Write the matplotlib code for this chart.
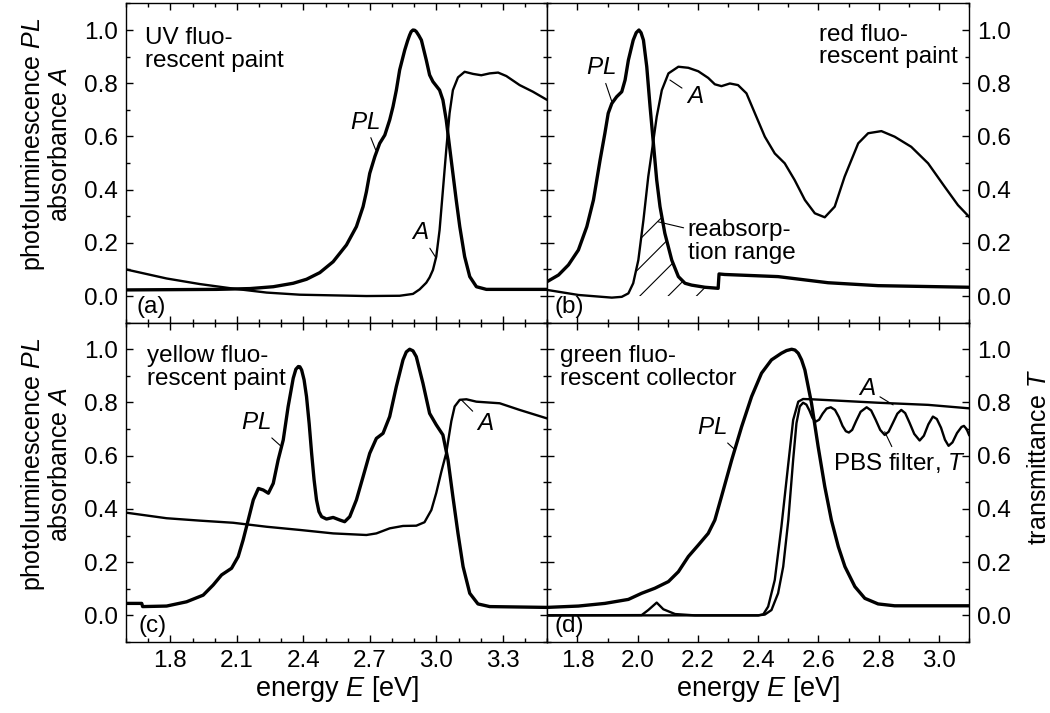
import numpy as np
import matplotlib.pyplot as plt
from matplotlib.ticker import MultipleLocator, FormatStrFormatter

plt.rcParams['font.family'] = ['Liberation Sans', 'DejaVu Sans']
plt.rcParams['mathtext.fontset'] = 'custom'
plt.rcParams['mathtext.rm'] = 'Liberation Sans'
plt.rcParams['mathtext.it'] = 'Liberation Sans:italic'
plt.rcParams['axes.linewidth'] = 1.0

# (a) UV fluorescent paint
a_pl_E = [1.600, 2.008, 2.159, 2.264, 2.354, 2.414, 2.474, 2.534, 2.594, 2.639,
          2.669, 2.684, 2.699, 2.722, 2.744, 2.767, 2.789, 2.804, 2.819, 2.834,
          2.857, 2.870, 2.879, 2.886, 2.894, 2.902, 2.909, 2.920, 2.932, 2.954,
          2.969, 2.984, 3.014, 3.029, 3.044, 3.059, 3.074, 3.089, 3.105, 3.127,
          3.150, 3.180, 3.225, 3.495]
a_pl = [0.023, 0.025, 0.028, 0.035, 0.048, 0.063, 0.088, 0.129, 0.192, 0.261,
        0.336, 0.392, 0.461, 0.524, 0.574, 0.605, 0.662, 0.712, 0.774, 0.850,
        0.925, 0.960, 0.981, 0.994, 1.000, 0.999, 0.994, 0.980, 0.962, 0.887,
        0.831, 0.806, 0.774, 0.737, 0.662, 0.561, 0.461, 0.361, 0.261, 0.148,
        0.073, 0.035, 0.025, 0.025]
a_abs_E = [1.600, 1.783, 1.933, 2.083, 2.234, 2.384, 2.684, 2.834, 2.894, 2.924,
           2.954, 2.969, 2.984, 2.999, 3.014, 3.029, 3.044, 3.059, 3.074, 3.097,
           3.127, 3.165, 3.202, 3.240, 3.278, 3.315, 3.375, 3.435, 3.495]
a_abs = [0.100, 0.066, 0.045, 0.028, 0.013, 0.005, 0.000, 0.001, 0.008, 0.025,
         0.050, 0.070, 0.098, 0.148, 0.248, 0.398, 0.549, 0.687, 0.774, 0.822,
         0.843, 0.835, 0.830, 0.837, 0.840, 0.827, 0.793, 0.768, 0.739]

# (b) red fluorescent paint
b_pl_E = [1.699, 1.737, 1.770, 1.803, 1.831, 1.853, 1.875, 1.891, 1.902, 1.914,
          1.930, 1.947, 1.958, 1.969, 1.985, 1.995, 2.004, 2.011, 2.019, 2.030,
          2.041, 2.052, 2.063, 2.074, 2.090, 2.113, 2.135, 2.157, 2.179, 2.223,
          2.267, 2.270, 2.289, 2.466, 2.632, 2.798, 3.100]
b_pl = [0.054, 0.079, 0.117, 0.173, 0.261, 0.361, 0.511, 0.612, 0.687, 0.724,
        0.749, 0.768, 0.812, 0.887, 0.962, 0.990, 1.000, 0.990, 0.962, 0.862,
        0.712, 0.574, 0.436, 0.336, 0.236, 0.135, 0.073, 0.048, 0.041, 0.033,
        0.029, 0.083, 0.081, 0.073, 0.050, 0.039, 0.033]
b_abs_E = [1.699, 1.803, 1.914, 1.947, 1.969, 1.985, 2.002, 2.019, 2.035, 2.046,
           2.063, 2.080, 2.102, 2.135, 2.168, 2.201, 2.234, 2.256, 2.278, 2.306,
           2.333, 2.361, 2.389, 2.422, 2.455, 2.488, 2.521, 2.555, 2.588, 2.621,
           2.654, 2.687, 2.732, 2.765, 2.809, 2.853, 2.908, 2.964, 3.019, 3.063,
           3.100]
b_abs = [0.023, 0.004, -0.006, -0.003, 0.010, 0.048, 0.135, 0.286, 0.449, 0.536,
         0.674, 0.774, 0.837, 0.862, 0.858, 0.845, 0.820, 0.796, 0.789, 0.799,
         0.793, 0.762, 0.687, 0.599, 0.536, 0.499, 0.436, 0.361, 0.311, 0.296,
         0.336, 0.449, 0.574, 0.612, 0.620, 0.599, 0.561, 0.499, 0.411, 0.342,
         0.298]

# (c) yellow fluorescent paint
c_pl_E = [1.600, 1.671, 1.675, 1.783, 1.873, 1.948, 1.993, 2.031, 2.076, 2.106,
          2.128, 2.151, 2.174, 2.197, 2.219, 2.242, 2.264, 2.286, 2.309, 2.331,
          2.354, 2.366, 2.377, 2.384, 2.392, 2.403, 2.414, 2.426, 2.437, 2.448,
          2.459, 2.470, 2.482, 2.504, 2.534, 2.565, 2.586, 2.609, 2.639, 2.669,
          2.699, 2.729, 2.759, 2.789, 2.819, 2.849, 2.864, 2.879, 2.894, 2.909,
          2.939, 2.969, 2.999, 3.029, 3.052, 3.074, 3.097, 3.120, 3.150, 3.187,
          3.240, 3.495]
c_pl = [0.045, 0.045, 0.033, 0.035, 0.051, 0.076, 0.114, 0.152, 0.177, 0.221,
        0.283, 0.358, 0.434, 0.477, 0.471, 0.459, 0.496, 0.584, 0.659, 0.784,
        0.891, 0.925, 0.935, 0.934, 0.922, 0.885, 0.822, 0.720, 0.609, 0.510,
        0.434, 0.390, 0.371, 0.362, 0.368, 0.358, 0.352, 0.371, 0.434, 0.521,
        0.609, 0.665, 0.684, 0.747, 0.860, 0.960, 0.990, 1.000, 0.994, 0.972,
        0.872, 0.759, 0.716, 0.678, 0.584, 0.446, 0.308, 0.183, 0.083, 0.043,
        0.033, 0.030]
c_abs_E = [1.600, 1.783, 1.933, 2.083, 2.234, 2.384, 2.534, 2.684, 2.729, 2.789,
           2.849, 2.909, 2.946, 2.977, 2.999, 3.022, 3.044, 3.067, 3.082, 3.105,
           3.135, 3.180, 3.285, 3.375, 3.495]
c_abs = [0.386, 0.365, 0.356, 0.348, 0.333, 0.321, 0.308, 0.302, 0.308, 0.327,
         0.336, 0.337, 0.350, 0.396, 0.460, 0.540, 0.610, 0.730, 0.785, 0.810,
         0.812, 0.803, 0.797, 0.772, 0.741]

# (d) green fluorescent collector + PBS filter
d_pl_E = [1.699, 1.803, 1.891, 1.969, 2.013, 2.057, 2.102, 2.135, 2.168, 2.201,
          2.234, 2.256, 2.278, 2.312, 2.345, 2.378, 2.411, 2.444, 2.477, 2.494,
          2.511, 2.522, 2.533, 2.544, 2.555, 2.577, 2.599, 2.621, 2.643, 2.666,
          2.688, 2.721, 2.754, 2.798, 2.853, 3.100]
d_pl = [0.030, 0.035, 0.045, 0.060, 0.083, 0.102, 0.127, 0.164, 0.221, 0.264,
        0.308, 0.358, 0.446, 0.584, 0.709, 0.822, 0.910, 0.960, 0.985, 0.995,
        1.000, 0.997, 0.985, 0.960, 0.922, 0.797, 0.634, 0.484, 0.358, 0.258,
        0.183, 0.108, 0.064, 0.043, 0.036, 0.036]
d_abs_E = [1.699, 2.013, 2.035, 2.063, 2.085, 2.124, 2.190, 2.400, 2.417, 2.433,
           2.455, 2.477, 2.500, 2.516, 2.533, 2.549, 2.577, 2.798, 2.964, 3.100]
d_abs = [0.000, 0.001, 0.020, 0.048, 0.023, 0.005, 0.000, 0.000, 0.004, 0.033,
         0.133, 0.333, 0.571, 0.734, 0.803, 0.813, 0.812, 0.799, 0.791, 0.778]
d_T_E = [1.699, 2.400, 2.422, 2.444, 2.466, 2.483, 2.500, 2.516, 2.527, 2.538,
         2.549, 2.560, 2.570, 2.580, 2.591, 2.602, 2.614, 2.627, 2.641, 2.655,
         2.668, 2.680, 2.691, 2.701, 2.712, 2.725, 2.740, 2.760, 2.775, 2.790,
         2.805, 2.820, 2.833, 2.848, 2.862, 2.875, 2.888, 2.902, 2.918, 2.936,
         2.950, 2.965, 2.980, 2.993, 3.007, 3.020, 3.032, 3.045, 3.060, 3.075,
         3.083, 3.092, 3.100]
d_T = [0.000, 0.000, 0.003, 0.020, 0.083, 0.183, 0.358, 0.584, 0.722, 0.785,
       0.799, 0.792, 0.770, 0.742, 0.728, 0.735, 0.758, 0.777, 0.782, 0.772,
       0.745, 0.712, 0.692, 0.687, 0.697, 0.730, 0.765, 0.782, 0.770, 0.735,
       0.697, 0.678, 0.690, 0.725, 0.758, 0.772, 0.760, 0.725, 0.682, 0.657,
       0.675, 0.718, 0.747, 0.738, 0.705, 0.660, 0.637, 0.650, 0.685, 0.708,
       0.712, 0.700, 0.678]

FS = 17.5
LW_PL = 2.4
LW_A = 1.7


def style(ax, xmin, xmax, xmajor, left_col, bottom_row):
	ax.set_xlim(xmin, xmax)
	ax.set_ylim(-0.1, 1.1)
	ax.xaxis.set_major_locator(MultipleLocator(xmajor))
	ax.xaxis.set_minor_locator(MultipleLocator(0.1))
	ax.yaxis.set_major_locator(MultipleLocator(0.2))
	ax.yaxis.set_minor_locator(MultipleLocator(0.1))
	ax.xaxis.set_major_formatter(FormatStrFormatter('%.1f'))
	ax.yaxis.set_major_formatter(FormatStrFormatter('%.1f'))
	ax.tick_params(which='both', direction='in', top=True, bottom=True, left=True, right=True,
				   labelleft=left_col, labelright=not left_col, labelbottom=bottom_row,
				   labelsize=FS, width=1.0)
	ax.tick_params(which='major', length=5, pad=6)
	ax.tick_params(which='minor', length=3)
	if bottom_row:
		ax.set_xlabel('energy $E$ [eV]', fontsize=19.5, labelpad=1)
	if left_col:
		ax.set_ylabel('photoluminescence $PL$\nabsorbance $A$', fontsize=18, linespacing=1.05)
		ax.yaxis.set_label_coords(-0.128, 0.557)


def label(ax, txt, xy, xytext):
	ax.annotate(txt, xy=xy, xytext=xytext, fontsize=FS, ha='center', va='center',
				arrowprops=dict(arrowstyle='-', lw=0.8, color='k', shrinkA=1, shrinkB=0))


fig = plt.figure(figsize=(10.5, 7.13), dpi=100)
axA = fig.add_axes([0.1200, 0.5475, 0.4013, 0.4477])
axB = fig.add_axes([0.5213, 0.5475, 0.4016, 0.4477])
axC = fig.add_axes([0.1200, 0.0996, 0.4013, 0.4479])
axD = fig.add_axes([0.5213, 0.0996, 0.4016, 0.4479])

# (a)
axA.plot(a_pl_E, a_pl, color='k', lw=LW_PL)
axA.plot(a_abs_E, a_abs, color='k', lw=LW_A)
label(axA, '$PL$', (2.726, 0.549), (2.677, 0.652))
label(axA, '$A$', (2.999, 0.142), (2.927, 0.236))
axA.text(0.045, 0.925, 'UV fluo-\nrescent paint', transform=axA.transAxes,
		 fontsize=FS, va='top', ha='left', linespacing=1.05)
axA.text(0.025, 0.015, '(a)', transform=axA.transAxes, fontsize=FS, va='bottom')
style(axA, 1.6, 3.5, 0.3, True, False)

# (b) with hatched reabsorption range under both curves
axB.plot(b_pl_E, b_pl, color='k', lw=LW_PL)
axB.plot(b_abs_E, b_abs, color='k', lw=LW_A)
Eg = np.linspace(1.95, 2.25, 400)
overlap = np.minimum(np.interp(Eg, b_pl_E, b_pl), np.interp(Eg, b_abs_E, b_abs))
overlap = np.clip(overlap, 0, None)
region = axB.fill_between(Eg, 0, overlap, facecolor='none', edgecolor='none')
clip = region.get_paths()[0]
for x0 in np.arange(1.819, 2.25, 0.094):
	ln, = axB.plot([x0, x0 + 0.5], [0, 0.5 * 1.133], color='k', lw=0.8)
	ln.set_clip_path(clip, axB.transData)
label(axB, '$PL$', (1.914, 0.731), (1.877, 0.856))
label(axB, '$A$', (2.107, 0.812), (2.190, 0.749))
axB.annotate('reabsorp-\ntion range', xy=(2.068, 0.279), xytext=(2.166, 0.205),
			 fontsize=FS, ha='left', va='center', linespacing=1.05,
			 arrowprops=dict(arrowstyle='-', lw=0.8, color='k', shrinkA=1, shrinkB=0))
axB.text(0.643, 0.937, 'red fluo-\nrescent paint', transform=axB.transAxes,
		 fontsize=FS, va='top', ha='left', linespacing=1.05)
axB.text(0.018, 0.015, '(b)', transform=axB.transAxes, fontsize=FS, va='bottom')
style(axB, 1.7, 3.1, 0.2, False, False)

# (c)
axC.plot(c_pl_E, c_pl, color='k', lw=LW_PL)
axC.plot(c_abs_E, c_abs, color='k', lw=LW_A)
label(axC, '$PL$', (2.301, 0.634), (2.184, 0.722))
label(axC, '$A$', (3.112, 0.810), (3.221, 0.719))
axC.text(0.049, 0.93, 'yellow fluo-\nrescent paint', transform=axC.transAxes,
		 fontsize=FS, va='top', ha='left', linespacing=1.05)
axC.text(0.029, 0.015, '(c)', transform=axC.transAxes, fontsize=FS, va='bottom')
style(axC, 1.6, 3.5, 0.3, True, True)

# (d)
axD.plot(d_pl_E, d_pl, color='k', lw=LW_PL)
axD.plot(d_abs_E, d_abs, color='k', lw=LW_A)
axD.plot(d_T_E, d_T, color='k', lw=LW_A)
label(axD, '$PL$', (2.323, 0.622), (2.246, 0.703))
label(axD, '$A$', (2.848, 0.791), (2.761, 0.851))
label(axD, 'PBS filter, $T$', (2.820, 0.690), (2.869, 0.574))
axD.text(0.030, 0.93, 'green fluo-\nrescent collector', transform=axD.transAxes,
		 fontsize=FS, va='top', ha='left', linespacing=1.05)
axD.text(0.018, 0.015, '(d)', transform=axD.transAxes, fontsize=FS, va='bottom')
style(axD, 1.7, 3.1, 0.2, False, True)
axD.yaxis.set_label_position('right')
axD.set_ylabel('transmittance $T$', fontsize=18)
axD.yaxis.set_label_coords(1.137, 0.578)

fig.savefig('out.png', dpi=100)
